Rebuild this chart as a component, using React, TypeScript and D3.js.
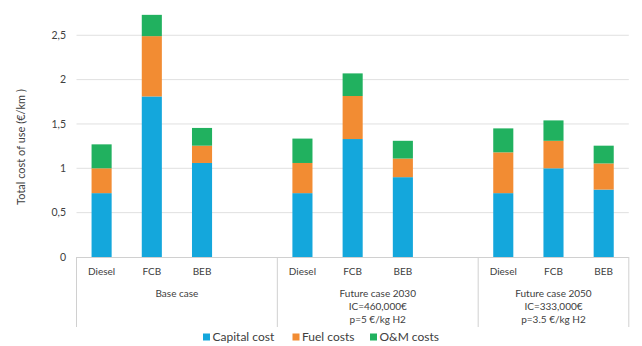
import React from "react";
import * as d3 from "d3";

// Category slots along the x axis (empty strings are spacer slots between groups)
const categories = ["Diesel", "FCB", "BEB", "", "Diesel", "FCB", "BEB", "", "Diesel", "FCB", "BEB"];

// Group labels (multi-line) and how many slots each group spans
const groupLabels = [
  ["Base case"],
  ["Future case 2030", "IC=460,000€", "p=5 €/kg H2"],
  ["Future case 2050", "IC=333,000€", "p=3.5 €/kg H2"],
];
const groupSpans = [4, 4, 3];

// Cost components, €/km (null = spacer slot)
const capitalCost = [0.72, 1.81, 1.06, null, 0.72, 1.33, 0.9, null, 0.72, 1.0, 0.76];
const fuelCosts = [0.28, 0.68, 0.195, null, 0.34, 0.485, 0.21, null, 0.46, 0.31, 0.295];
const omCosts = [0.27, 0.24, 0.2, null, 0.275, 0.255, 0.2, null, 0.27, 0.23, 0.2];

const seriesNames = ["Capital cost", "Fuel costs", "O&M costs"];
const seriesColors = ["#14a7dc", "#f28c33", "#21b15f"];

const yTicks = [0, 0.5, 1, 1.5, 2, 2.5];
const yTickLabels = ["0", "0,5", "1", "1,5", "2", "2,5"];

const W = 642;
const H = 346;
const left = 76.5;
const right = 628.8;
const top = 12;
const bottom = 257;

const FONT = "Lato, 'Open Sans', sans-serif";
const TEXT = "#404040";

export default function App() {
  const x = d3
    .scaleBand<number>()
    .domain(categories.map((_, i) => i))
    .range([left, right])
    .padding(0);
  const y = d3.scaleLinear().domain([0, 2.76]).range([bottom, bottom - 2.76 * 88.7]);

  const rows = categories.map((c, i) => ({
    i,
    capital: capitalCost[i] ?? 0,
    fuel: fuelCosts[i] ?? 0,
    om: omCosts[i] ?? 0,
  }));
  const stack = d3.stack<any>().keys(["capital", "fuel", "om"])(rows);

  const barW = x.step() * 0.4;

  // group boundaries
  const bounds: number[] = [left];
  let acc = 0;
  groupSpans.forEach((s) => {
    acc += s;
    bounds.push(left + acc * x.step());
  });

  return (
    <svg width={W} height={H} style={{ position: "absolute", left: 0, top: 0 }} fontFamily={FONT}>
      <rect width={W} height={H} fill="#fff" />
      {/* gridlines */}
      {yTicks.slice(1).map((t) => (
        <line key={t} x1={left} x2={right} y1={y(t)} y2={y(t)} stroke="#e0e0e0" strokeWidth={1} />
      ))}
      {/* y tick labels */}
      {yTicks.map((t, k) => (
        <text key={t} x={66} y={y(t)} dy="0.35em" textAnchor="end" fontSize={10.5} fill={TEXT}>
          {yTickLabels[k]}
        </text>
      ))}
      {/* y axis title */}
      <text
        transform={`translate(21,147) rotate(-90)`}
        textAnchor="middle"
        dy="0.35em"
        fontSize={11}
        fill={TEXT}
      >
        Total cost of use (€/km )
      </text>
      {/* stacked bars */}
      {stack.map((layer, si) =>
        layer.map((d, i) =>
          capitalCost[i] === null ? null : (
            <rect
              key={`${si}-${i}`}
              x={(x(i) as number) + (x.step() - barW) / 2}
              width={barW}
              y={y(d[1])}
              height={y(d[0]) - y(d[1])}
              fill={seriesColors[si]}
            />
          )
        )
      )}
      {/* category axis */}
      <line x1={left} x2={right} y1={bottom + 0.5} y2={bottom + 0.5} stroke="#d0d0d0" />
      {bounds.map((b, k) => (
        <line key={k} x1={b} x2={b} y1={bottom} y2={327} stroke="#d0d0d0" />
      ))}
      {categories.map((c, i) => (
        <text
          key={i}
          x={(x(i) as number) + x.step() / 2}
          y={271}
          dy="0.35em"
          textAnchor="middle"
          fontSize={10}
          fill={TEXT}
        >
          {c}
        </text>
      ))}
      {groupLabels.map((lines, g) =>
        lines.map((ln, k) => (
          <text
            key={`${g}-${k}`}
            x={(bounds[g] + bounds[g + 1]) / 2}
            y={293 + k * 13.3}
            dy="0.35em"
            textAnchor="middle"
            fontSize={10}
            fill={TEXT}
          >
            {ln}
          </text>
        ))
      )}
      {/* legend */}
      {seriesNames.map((n, k) => {
        const lx = [203, 292.5, 370][k];
        return (
          <g key={n}>
            <rect x={lx} y={333.5} width={7} height={7} fill={seriesColors[k]} />
            <text x={lx + 9.5} y={337} dy="0.35em" fontSize={12} fill={TEXT}>
              {n}
            </text>
          </g>
        );
      })}
    </svg>
  );
}
